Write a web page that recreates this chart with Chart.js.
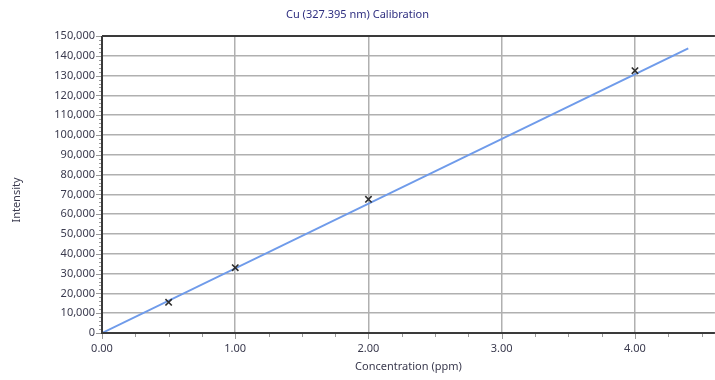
<!DOCTYPE html>
<html>
<head>
<meta charset="utf-8">
<script src="https://cdn.jsdelivr.net/npm/chart.js@4/dist/chart.umd.min.js"></script>
<style>
  html, body { margin: 0; padding: 0; background: #fff; overflow: hidden; }
  #wrap { width: 715px; height: 380px; position: relative; overflow: hidden; }
</style>
</head>
<body>
<div id="wrap"><canvas id="calChart" width="721" height="380"></canvas></div>
<script>
// standards (ppm) and measured intensity
const concentrations = [0.5, 1.0, 2.0, 4.0];
const intensities = [15500, 33000, 67500, 132500];

// calibration line end points
const fitX = [0, 4.4];
const fitY = [0, 143800];

// axes
const xMin = 0, xMax = 4.6, xStep = 1, xMinorStep = 0.25;
const yMin = 0, yMax = 150000, yStep = 10000, yMinorStep = 2000;

const titleText = "Cu (327.395 nm) Calibration";
const xTitle = "Concentration (ppm)";
const yTitle = "Intensity";

const labelColor = "#3a3a4e";
const fontFamily = "'Noto Sans', 'Open Sans', sans-serif";

// minor ticks, frame and the rotated y title
const framePlugin = {
  id: "frame",
  afterDraw(chart) {
    const { ctx, chartArea: a, scales } = chart;
    ctx.save();
    ctx.strokeStyle = "#9a9a9a";
    ctx.lineWidth = 1;
    for (let v = yMin; v <= yMax + 1; v += yMinorStep) {
      const y = Math.round(scales.y.getPixelForValue(v)) + 0.5;
      const len = v % yStep === 0 ? 6 : 3;
      ctx.beginPath();
      ctx.moveTo(a.left - len, y);
      ctx.lineTo(a.left, y);
      ctx.stroke();
    }
    for (let v = xMin; v <= xMax + 1e-9; v += xMinorStep) {
      const x = Math.round(scales.x.getPixelForValue(v)) + 0.5;
      const len = Math.abs(v - Math.round(v)) < 1e-9 ? 6 : 4;
      ctx.beginPath();
      ctx.moveTo(x, a.bottom);
      ctx.lineTo(x, a.bottom + len);
      ctx.stroke();
    }
    // dark frame lines
    ctx.strokeStyle = "#3a3a3a";
    ctx.lineWidth = 2;
    ctx.beginPath();
    ctx.moveTo(a.left, a.top);
    ctx.lineTo(a.right, a.top);
    ctx.moveTo(a.left, a.top);
    ctx.lineTo(a.left, a.bottom);
    ctx.lineTo(a.right, a.bottom);
    ctx.stroke();

    ctx.translate(17, 200);
    ctx.rotate(-Math.PI / 2);
    ctx.fillStyle = labelColor;
    ctx.font = "11px " + fontFamily;
    ctx.textAlign = "center";
    ctx.textBaseline = "middle";
    ctx.fillText(yTitle, 0, 0);
    ctx.restore();
  },
};

const ctx = document.getElementById("calChart");

new Chart(ctx, {
  type: "scatter",
  data: {
    datasets: [
      {
        type: "line",
        label: "Calibration",
        data: fitX.map((x, i) => ({ x: x, y: fitY[i] })),
        borderColor: "#6f9bea",
        borderWidth: 2,
        pointRadius: 0,
        fill: false,
        order: 2,
      },
      {
        label: "Standards",
        data: concentrations.map((x, i) => ({ x: x, y: intensities[i] })),
        pointStyle: "crossRot",
        pointRadius: 4.5,
        borderColor: "#2e2e2e",
        borderWidth: 1.6,
        backgroundColor: "#2e2e2e",
        order: 1,
      },
    ],
  },
  options: {
    responsive: false,
    animation: false,
    // the canvas is 6px wider than the page so the plot runs off the right edge
    layout: { padding: { left: 0, top: 0, bottom: 0, right: 6 } },
    plugins: {
      legend: { display: false },
      tooltip: { enabled: false },
      title: {
        display: true,
        text: titleText,
        color: "#2f2f80",
        font: { family: fontFamily, size: 11, weight: "normal" },
        padding: { top: 8, bottom: 14.8 },
      },
    },
    scales: {
      x: {
        type: "linear",
        min: xMin,
        max: xMax,
        afterFit: (axis) => {
          axis.height = 47;
        },
        ticks: {
          stepSize: xStep,
          includeBounds: false,
          color: labelColor,
          padding: 9,
          font: { family: fontFamily, size: 11 },
          callback: (v) => Number(v).toFixed(2),
        },
        grid: { color: "#b0b0b0", lineWidth: 1.5, drawTicks: false },
        border: { display: false },
        title: {
          display: true,
          text: xTitle,
          color: labelColor,
          font: { family: fontFamily, size: 11 },
          padding: { top: 0, bottom: 7 },
        },
      },
      y: {
        type: "linear",
        min: yMin,
        max: yMax,
        afterFit: (axis) => { axis.width = 102; },
        ticks: {
          stepSize: yStep,
          color: labelColor,
          padding: 7,
          font: { family: fontFamily, size: 11 },
          callback: (v) => Number(v).toLocaleString("en-US"),
        },
        grid: { color: "#b0b0b0", lineWidth: 1.5, drawTicks: false },
        border: { display: false },
      },
    },
  },
  plugins: [framePlugin],
});
</script>
</body>
</html>
